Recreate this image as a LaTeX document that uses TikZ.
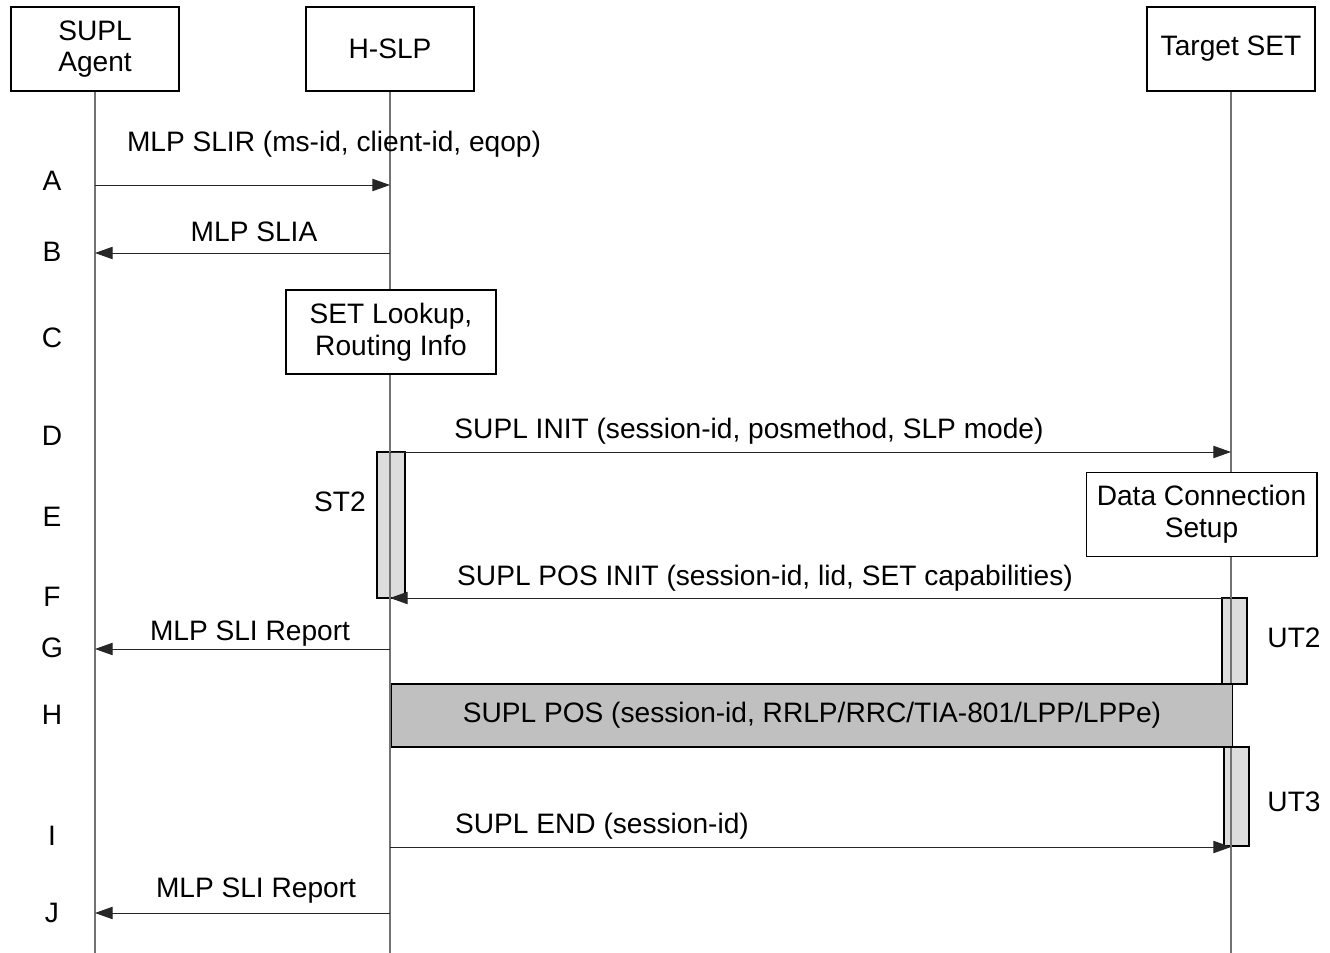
\documentclass[tikz,border=0pt]{standalone}
\usepackage{fontspec}
\setmainfont{Liberation Sans}
\usetikzlibrary{arrows.meta, positioning, calc}

\definecolor{barfill}{HTML}{DDDDDD}
\definecolor{posfill}{HTML}{C0C0C0}

\begin{document}
\begin{tikzpicture}[
    x=0.02cm, y=-0.02cm,
    font=\fontsize{16}{18}\selectfont,
    actor/.style={draw, line width=0.6pt, minimum width=3.36cm, minimum height=1.68cm, align=center, inner sep=1pt},
    procbox/.style={draw, line width=0.6pt, fill=white, minimum height=1.68cm, align=center, inner sep=1pt},
    timer/.style={draw, line width=0.6pt, fill=barfill},
    lifeline/.style={black!55, line width=0.6pt},
    msg/.style={-{Triangle[length=10pt, width=7pt]}, line width=0.5pt, black!85},
    letter/.style={inner sep=0pt}
]
\useasboundingbox (0,0) rectangle (1330,953);

% Actors
\node[actor] (agent) at (95,49) {SUPL\\Agent};
\node[actor] (hslp) at (390,49) {H-SLP};
\node[actor] (target) at (1231,49) {Target SET};

% Timers
\draw[timer] (377,452) rectangle (405,598);
\draw[timer] (1222,598) rectangle (1247,684);
\draw[timer] (1224,747) rectangle (1249,846);

% Lifelines
\coordinate (agentEnd) at (95,953);
\coordinate (hslpEnd) at (390,953);
\coordinate (targetEnd) at (1231,953);
\draw[lifeline] (agent.south) -- (agentEnd);
\draw[lifeline] (hslp.south) -- (hslpEnd);
\draw[lifeline] (target.south) -- (targetEnd);

% Boxes on the lifelines
\node[procbox, minimum width=4.2cm] (lookup) at (391,332) {SET Lookup,\\Routing Info};
\node[procbox, minimum width=4.62cm] (dcs) at (1201.5,514.5) {Data Connection\\Setup};
\node[draw, line width=0.6pt, fill=posfill, minimum width=16.84cm, minimum height=1.26cm, inner sep=1pt] (pos) at (812,715.5) {SUPL POS (session-id, RRLP/RRC/TIA-801/LPP/LPPe)};

% Step letters
\foreach \l/\y in {A/181, B/252, C/338, D/436, E/517, F/597, G/648, H/715, I/836, J/913}
    \node[letter] (step\l) at (52,\y) {\l};

% Messages
\draw[msg] (agent |- 0,185) -- (hslp |- 0,185);
\draw[msg] (hslp |- 0,253) -- (agent |- 0,253);
\draw[msg] (hslp |- 0,452) -- (target |- 0,452);
\draw[msg] (target |- 0,598) -- (hslp |- 0,598);
\draw[msg] (hslp |- 0,649) -- (agent |- 0,649);
\draw[msg] (hslp |- 0,847) -- (target |- 0,847);
\draw[msg] (hslp |- 0,913) -- (agent |- 0,913);

% Labels
\node (slir) at (334,144) {MLP SLIR (ms-id, client-id, eqop)};
\node (slia) at (254,232) {MLP SLIA};
\node (init) at (749,431) {SUPL INIT (session-id, posmethod, SLP mode)};
\node (posinit) at (765,578) {SUPL POS INIT (session-id, lid, SET capabilities)};
\node (report1) at (250,634) {MLP SLI Report};
\node (suplend) at (602,826) {SUPL END (session-id)};
\node (report2) at (256,891) {MLP SLI Report};
\node (st2) at (340,502) {ST2};
\node (ut2) at (1294,638) {UT2};
\node (ut3) at (1294,802) {UT3};

\end{tikzpicture}
\end{document}
